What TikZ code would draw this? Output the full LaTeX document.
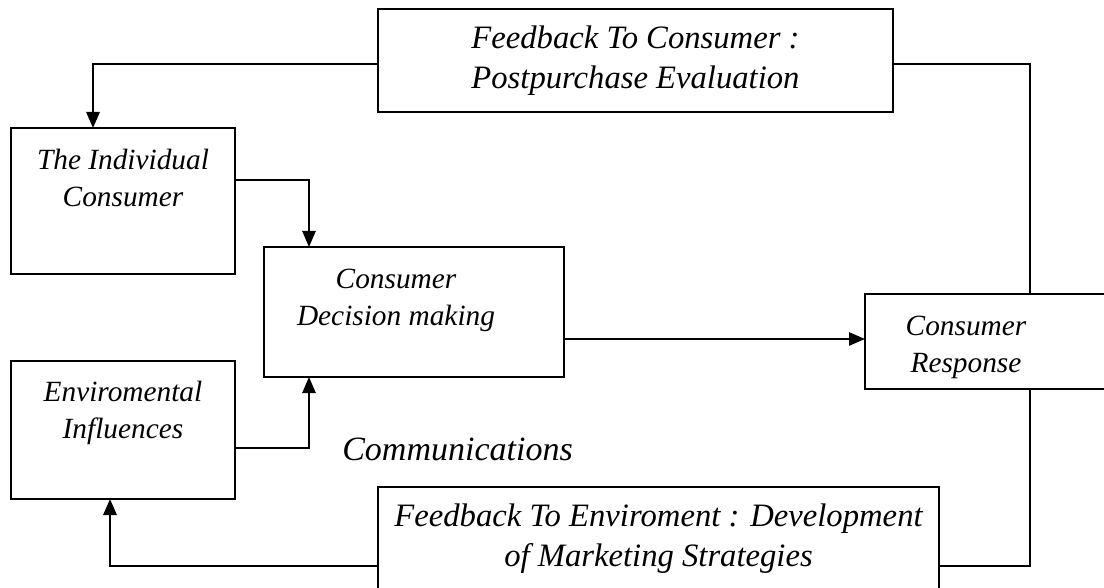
\documentclass[tikz,border=0pt]{standalone}
\usepackage{fontspec}
\setmainfont{Liberation Serif}
\usepackage{tikz}
\usetikzlibrary{arrows.meta,calc}

\begin{document}
\begin{tikzpicture}[x=0.75pt,y=-0.75pt,>={Triangle[length=12pt,width=10pt]}]
\tikzstyle{box}=[draw,line width=0.8pt,inner sep=0pt,outer sep=0pt,align=center,font=\itshape\fontsize{24.5}{30}\selectfont]
\tikzstyle{smallbox}=[box,font=\itshape\fontsize{22}{27.75}\selectfont]
\tikzstyle{boxtext}=[align=center,inner sep=0pt,font=\itshape\fontsize{22}{27.75}\selectfont]
\tikzstyle{flow}=[line width=1.1pt]
\tikzstyle{feedback}=[line width=1.6pt]

\clip (0,0) rectangle (1104,588);
\useasboundingbox (0,0) rectangle (1104,588);

\node[box,minimum width=386.25pt,minimum height=77.25pt] (fbc) at (635.5,60.5) {Feedback To Consumer :\\Postpurchase Evaluation};
\node[smallbox,minimum width=168pt,minimum height=109.5pt,label={[boxtext,shift={(0,-23.5)}]center:{The Individual\\Consumer}}] (ind) at (123,201) {};
\node[smallbox,minimum width=225pt,minimum height=97.5pt,label={[boxtext,shift={(-18,-12)}]center:{Consumer\\Decision making}}] (dec) at (414,312) {};
\node[smallbox,minimum width=183.75pt,minimum height=71.25pt,label={[boxtext,shift={(-21.5,5.5)}]center:{Consumer\\Response}}] (resp) at (987.5,341.5) {};
\node[smallbox,minimum width=168pt,minimum height=103.5pt,label={[boxtext,shift={(0,-17.5)}]center:{Enviromental\\Influences}}] (env) at (123,430) {};
\node[box,minimum width=420.75pt,minimum height=77.25pt] (fbe) at (658.5,538.5) {Feedback To Enviroment : Development\\of Marketing Strategies};
\node[font=\itshape\fontsize{25.5}{30}\selectfont,inner sep=0pt] (comm) at (457.5,449) {Communications};

% feedback loops
\draw[feedback,->] ([shift={(0,3.5)}]fbc.west) -| ([shift={(-30,0)}]ind.north);
\draw[feedback] ([shift={(0,3.5)}]fbc.east) -| ([shift={(42.5,0)}]resp.north);
\draw[feedback] ([shift={(42.5,0)}]resp.south) |- ([shift={(0,27.5)}]fbe.east);
\draw[feedback,->] ([shift={(0,27.5)}]fbe.west) -| ([shift={(-13,0)}]env.south);

% inputs and decision
\draw[flow,->] ([shift={(0,-21)}]ind.east) -| ([shift={(-105,0)}]dec.north);
\draw[flow,->] ([shift={(0,18)}]env.east) -| ([shift={(-105,0)}]dec.south);
\coordinate (decout) at ([shift={(0,27)}]dec.east);
\draw[flow,->] (decout) -- (decout -| resp.west);
\end{tikzpicture}
\end{document}
